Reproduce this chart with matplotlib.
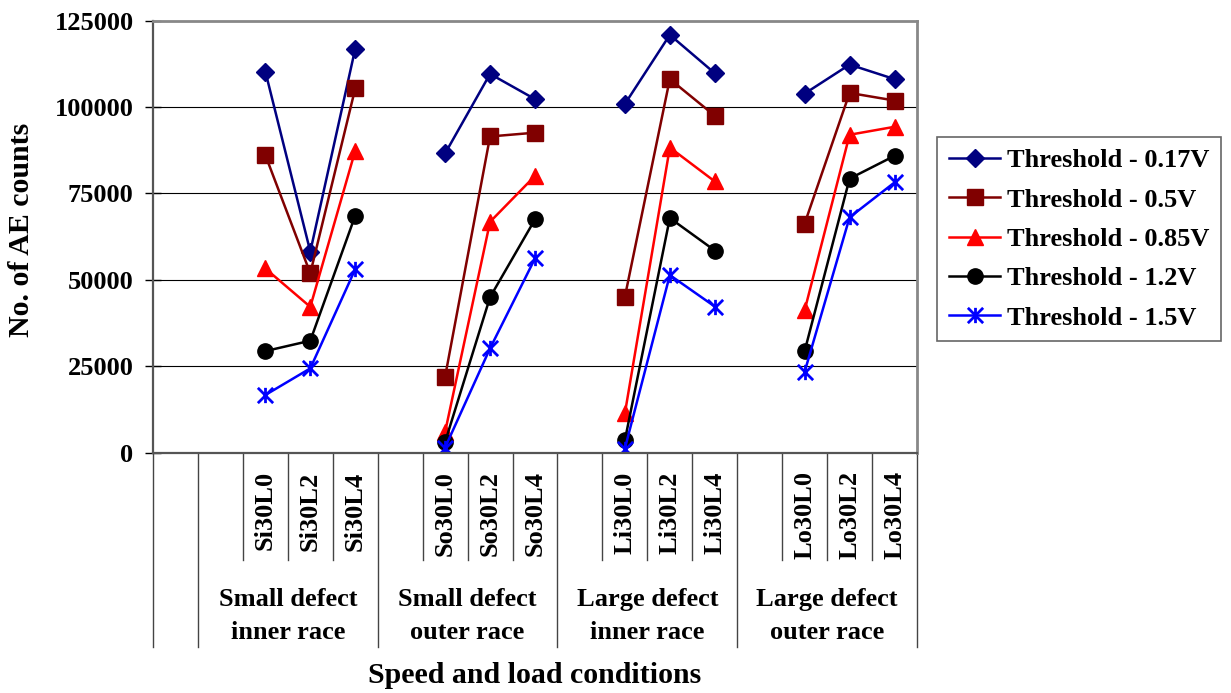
import numpy as np
import matplotlib
matplotlib.use("Agg")
import matplotlib.pyplot as plt
from matplotlib.path import Path

plt.rcParams['font.family'] = ['Liberation Serif', 'DejaVu Serif']
plt.rcParams['font.weight'] = 'bold'
plt.rcParams['font.size'] = 19

# category layout: 17 slots, with empty slots between groups
conditions = ['Si30L0', 'Si30L2', 'Si30L4',
              'So30L0', 'So30L2', 'So30L4',
              'Li30L0', 'Li30L2', 'Li30L4',
              'Lo30L0', 'Lo30L2', 'Lo30L4']
groups = ['Small defect\ninner race', 'Small defect\nouter race',
          'Large defect\ninner race', 'Large defect\nouter race']

thr_017 = [110300, 58200, 116900, 86600, 109600, 102300,
           100900, 120900, 109800, 103900, 112300, 108100]
thr_05 = [86100, 51900, 105400, 22000, 91500, 92600,
          45100, 108100, 97500, 66300, 104100, 101900]
thr_085 = [53300, 42200, 87400, 6000, 66800, 80100,
           11400, 88300, 78500, 41200, 92000, 94300]
thr_12 = [29400, 32400, 68600, 3100, 45000, 67500,
          3600, 67900, 58500, 29400, 79300, 85900]
thr_15 = [16700, 24400, 53100, 1500, 30200, 56200,
          1200, 51400, 42300, 23400, 68100, 78200]

labels = ['Threshold - 0.17V', 'Threshold - 0.5V', 'Threshold - 0.85V',
          'Threshold - 1.2V', 'Threshold - 1.5V']

# slot index for each condition (2 empty slots first, 1 empty between groups)
slots = [2, 3, 4, 6, 7, 8, 10, 11, 12, 14, 15, 16]
n_slots = 17


def to_slots(vals):
    arr = np.full(n_slots, np.nan)
    for s, v in zip(slots, vals):
        arr[s] = v
    return arr


star = Path([(0, -1), (0, 1), (-1, -1), (1, 1), (-1, 1), (1, -1)],
            [Path.MOVETO, Path.LINETO, Path.MOVETO, Path.LINETO, Path.MOVETO, Path.LINETO])

styles = [
    dict(color='#000080', marker='D', markersize=9),
    dict(color='#800000', marker='s', markersize=11),
    dict(color='#FF0000', marker='^', markersize=12),
    dict(color='#000000', marker='o', markersize=11),
    dict(color='#0000FF', marker=star, markersize=11, markeredgewidth=2),
]

fig = plt.figure(figsize=(12.31, 6.93), dpi=100)
ax = fig.add_axes([153 / 1231, 1 - 452.7 / 693, 764 / 1231, 432 / 693])

x = np.arange(n_slots) + 0.5
for vals, lab, st in zip([thr_017, thr_05, thr_085, thr_12, thr_15], labels, styles):
    ax.plot(x, to_slots(vals), lw=1.8, label=lab, **st)

ax.set_xlim(0, n_slots)
ax.set_ylim(0, 125000)
ax.set_yticks(np.arange(0, 125001, 25000))
ax.set_xticks([])
for yv in [25000, 50000, 75000, 100000]:
    ax.axhline(yv, color='black', lw=0.8, zorder=0)

ax.spines['top'].set_color('#888888')
ax.spines['right'].set_color('#888888')
ax.spines['top'].set_linewidth(2)
ax.spines['right'].set_linewidth(2)
ax.spines['left'].set_color('#555555')
ax.spines['bottom'].set_color('#555555')
ax.spines['left'].set_linewidth(1.6)
ax.spines['bottom'].set_linewidth(1.6)
ax.tick_params(axis='y', direction='inout', length=12, width=1, pad=8, labelsize=19)

# category separators below the axis
trans = ax.get_xaxis_transform()
full_lines = [0, 1, 5, 9, 13, 17]
for b in range(n_slots + 1):
    bottom = -0.45 if b in full_lines else -0.248
    ax.plot([b, b], [0, bottom], transform=trans, color='#444444', lw=1, clip_on=False)

for s, name in zip(slots, conditions):
    ax.text(s + 0.5, -0.043, name, transform=trans, rotation=90,
            ha='center', va='top', fontsize=19, fontweight='bold')

for gi, g in enumerate(groups):
    ax.text(3 + 4 * gi, -0.377, g, transform=trans, ha='center', va='center',
            fontsize=19, fontweight='bold', linespacing=1.55)

ax.text(n_slots / 2, -0.515, 'Speed and load conditions', transform=trans,
        ha='center', va='center', fontsize=21.5, fontweight='bold')
fig.text(22 / 1231, 1 - 230 / 693, 'No. of AE counts', rotation=90,
         ha='center', va='center', fontsize=21.5, fontweight='bold')

leg = ax.legend(loc='upper left', bbox_to_anchor=(937 / 1231, 1 - 137 / 693),
                bbox_transform=fig.transFigure, fancybox=False, framealpha=1,
                edgecolor='#666666', handlelength=1.95, handletextpad=0.25,
                labelspacing=0.6, borderpad=0.45, borderaxespad=0, fontsize=19)
leg.get_frame().set_linewidth(1.2)

fig.savefig('out.png', dpi=100)
